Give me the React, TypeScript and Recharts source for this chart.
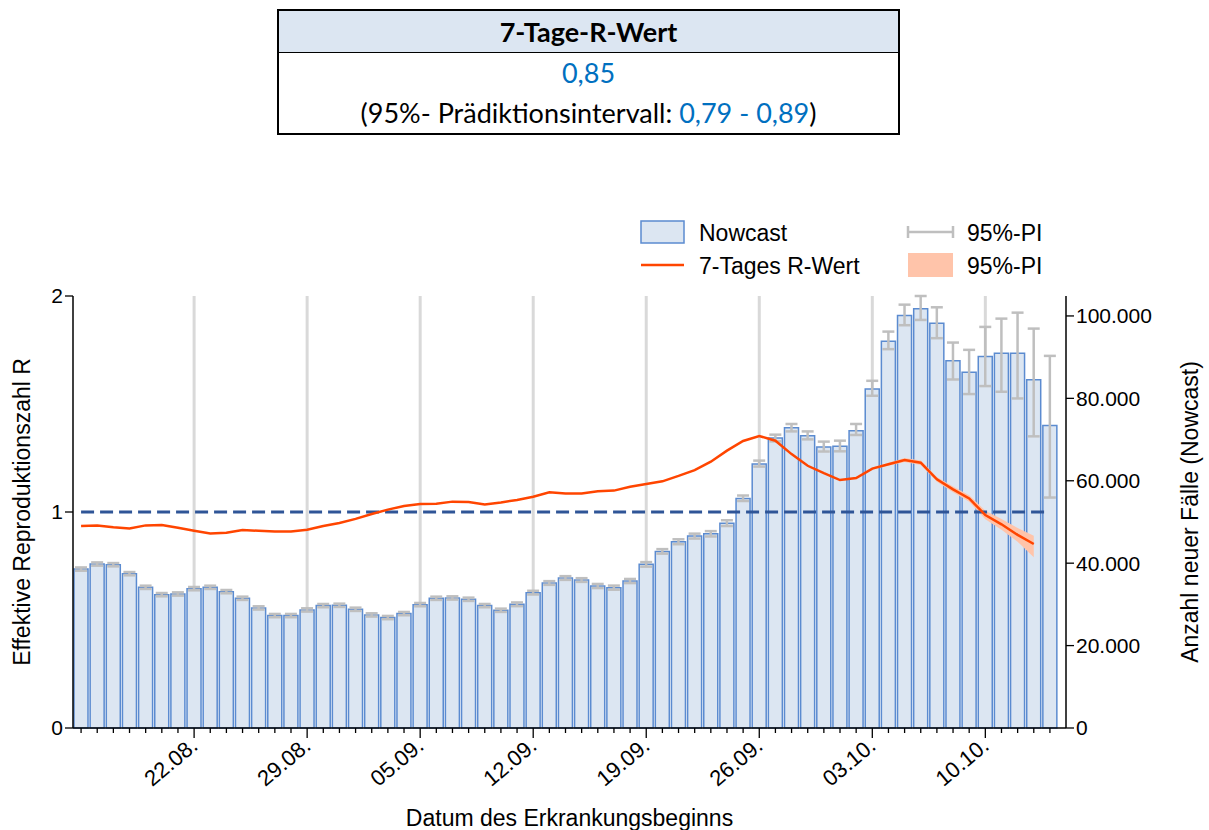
import React from 'react';
import {
  ComposedChart,
  Bar,
  ErrorBar,
  Line,
  Area,
  XAxis,
  YAxis,
  ReferenceLine,
  Label,
} from 'recharts';

// Erkrankungsbeginn 15.08. - 14.10.
const dates = [
  '15.08.', '16.08.', '17.08.', '18.08.', '19.08.', '20.08.', '21.08.', '22.08.', '23.08.', '24.08.',
  '25.08.', '26.08.', '27.08.', '28.08.', '29.08.', '30.08.', '31.08.', '01.09.', '02.09.', '03.09.',
  '04.09.', '05.09.', '06.09.', '07.09.', '08.09.', '09.09.', '10.09.', '11.09.', '12.09.', '13.09.',
  '14.09.', '15.09.', '16.09.', '17.09.', '18.09.', '19.09.', '20.09.', '21.09.', '22.09.', '23.09.',
  '24.09.', '25.09.', '26.09.', '27.09.', '28.09.', '29.09.', '30.09.', '01.10.', '02.10.', '03.10.',
  '04.10.', '05.10.', '06.10.', '07.10.', '08.10.', '09.10.', '10.10.', '11.10.', '12.10.', '13.10.',
  '14.10.',
];

const weekTicks = ['22.08.', '29.08.', '05.09.', '12.09.', '19.09.', '26.09.', '03.10.', '10.10.'];

// Nowcast, neue Fälle pro Tag
const nowcast = [
  38570, 39790, 39630, 37450, 34140, 32360, 32520, 33820, 34140, 33090,
  31480, 29140, 27280, 27280, 28650, 29700, 29780, 28810, 27440, 26800,
  27760, 29940, 31480, 31560, 31240, 29700, 28570, 30020, 32850, 35190,
  36400, 35910, 34460, 34060, 35670, 39710, 42860, 45200, 46570, 47130,
  49720, 55690, 64090, 70380, 72880, 70940, 68200, 68360, 72150, 82240,
  93870, 100080, 101770, 98220, 89100, 86360, 90150, 90960, 90960, 84500,
  73440,
];

// 95%-PI des Nowcast (Abstand nach unten / oben)
const piMinus = [
  400, 400, 400, 400, 400, 400, 400, 400, 400, 400,
  400, 400, 400, 400, 400, 400, 400, 400, 400, 400,
  400, 400, 400, 400, 400, 400, 400, 450, 450, 450,
  450, 450, 500, 500, 500, 550, 550, 600, 600, 650,
  700, 600, 650, 820, 900, 890, 1100, 1210, 1040, 1610,
  1930, 2330, 2740, 3620, 4520, 5320, 7170, 9360, 10980, 13720,
  17510,
];
const piPlus = [
  400, 400, 400, 400, 400, 400, 400, 400, 400, 400,
  400, 400, 400, 400, 400, 400, 400, 400, 400, 400,
  400, 400, 400, 400, 400, 400, 400, 450, 450, 450,
  450, 450, 500, 500, 500, 550, 550, 600, 600, 650,
  700, 730, 800, 810, 900, 1040, 1300, 1370, 1630, 2020,
  2330, 2660, 3070, 3880, 4440, 5410, 7190, 8390, 9840, 12430,
  16870,
];

// 7-Tages R-Wert
const rWert = [
  0.935, 0.937, 0.929, 0.924, 0.938, 0.940, 0.927, 0.913, 0.900, 0.904,
  0.917, 0.913, 0.910, 0.910, 0.918, 0.935, 0.949, 0.968, 0.991, 1.011,
  1.028, 1.037, 1.038, 1.048, 1.046, 1.035, 1.044, 1.056, 1.071, 1.091,
  1.086, 1.086, 1.096, 1.099, 1.117, 1.130, 1.142, 1.167, 1.194, 1.233,
  1.284, 1.329, 1.352, 1.330, 1.268, 1.214, 1.180, 1.148, 1.157, 1.201,
  1.221, 1.241, 1.228, 1.151, 1.105, 1.063, 0.986, 0.943, 0.894, 0.852,
  null,
];

// 95%-PI des R-Werts (nur die letzten Tage)
const rLow: (number | null)[] = [
  ...Array(49).fill(null),
  1.197, 1.214, 1.232, 1.218, 1.140, 1.092, 1.048, 0.966, 0.918, 0.862, 0.79,
  null,
];
const rHigh: (number | null)[] = [
  ...Array(49).fill(null),
  1.205, 1.228, 1.250, 1.238, 1.162, 1.118, 1.078, 1.006, 0.968, 0.926, 0.89,
  null,
];

const THRESHOLD = 1;

const data = dates.map((date, i) => ({
  date,
  nowcast: nowcast[i],
  pi: [piMinus[i], piPlus[i]],
  r: rWert[i],
  band: rLow[i] != null && rHigh[i] != null ? [rLow[i], rHigh[i]] : null,
  one: THRESHOLD,
}));

const FONT = '"Liberation Sans", Arial, sans-serif';
const BLUE_TXT = '#0070c0';

const fmtThousands = (v: number) => v.toLocaleString('de-DE');

// daily minor ticks, weekly major ticks with rotated labels
const DateTick = (props: any) => {
  const { x, y, payload } = props;
  const major = weekTicks.includes(payload.value);
  const tx = x + 5;
  const ty = y + 20;
  return (
    <g>
      <line x1={x} y1={y} x2={x} y2={y + (major ? 10 : 5)} stroke="#000" strokeWidth={1.3} />
      {major && (
        <g transform={`translate(${tx}, ${ty}) rotate(-40)`}>
          <text x={0} y={0} textAnchor="end" fontSize={22} fontFamily={FONT} fill="#000">
            {payload.value}
          </text>
        </g>
      )}
    </g>
  );
};

const InfoTable = () => (
  <div
    style={{
      position: 'absolute',
      left: 277,
      top: 9,
      width: 619,
      height: 122,
      border: '2px solid #000',
      fontFamily: 'Lato, "Open Sans", sans-serif',
      fontSize: 27,
      color: '#000',
      textAlign: 'center',
      background: '#fff',
    }}
  >
    <div
      style={{
        height: 41,
        lineHeight: '42px',
        background: '#dce6f2',
        borderBottom: '1.5px solid #000',
        fontWeight: 700,
      }}
    >
      7-Tage-R-Wert
    </div>
    <div style={{ lineHeight: '40px', color: BLUE_TXT }}>0,85</div>
    <div style={{ lineHeight: '40px' }}>
      (95%- Prädiktionsintervall: <span style={{ color: BLUE_TXT }}>0,79 - 0,89</span>)
    </div>
  </div>
);

const ChartLegend = () => (
  <svg
    width={440}
    height={70}
    style={{ position: 'absolute', left: 630, top: 212 }}
    fontFamily={FONT}
    fontSize={23}
  >
    <rect x={11} y={9} width={43} height={22} fill="#dce6f2" stroke="#5b8bd0" strokeWidth={1.5} />
    <text x={69} y={29} fill="#000">Nowcast</text>
    <line x1={11} y1={53} x2={54} y2={53} stroke="#ff4500" strokeWidth={2.5} />
    <text x={69} y={62} fill="#000">7-Tages R-Wert</text>
    <line x1={278} y1={20} x2={323} y2={20} stroke="#bfbfbf" strokeWidth={2.5} />
    <line x1={278} y1={14} x2={278} y2={26} stroke="#bfbfbf" strokeWidth={2.5} />
    <line x1={323} y1={14} x2={323} y2={26} stroke="#bfbfbf" strokeWidth={2.5} />
    <text x={337} y={29} fill="#000">95%-PI</text>
    <rect x={278} y={41} width={45} height={24} fill="#ffc4aa" />
    <text x={337} y={62} fill="#000">95%-PI</text>
  </svg>
);

export default function App() {
  return (
    <div style={{ position: 'absolute', left: 0, top: 0, width: 1209, height: 830, background: '#fff' }}>
      <ComposedChart
        width={1209}
        height={830}
        data={data}
        margin={{ top: 296, right: 0, bottom: 0, left: 0 }}
        barCategoryGap={1}
        style={{ fontFamily: FONT }}
      >
        <XAxis
          dataKey="date"
          interval={0}
          tickLine={false}
          tickSize={0}
          tickMargin={0}
          height={102}
          padding={{ left: 0, right: 8 }}
          axisLine={{ stroke: '#000', strokeWidth: 1.5 }}
          tick={<DateTick />}
        >
          <Label
            value="Datum des Erkrankungsbeginns"
            position="insideBottom"
            offset={4}
            style={{ fontSize: 23, fill: '#000', fontFamily: FONT }}
          />
        </XAxis>
        <YAxis
          yAxisId="r"
          width={73}
          domain={[0, 2]}
          ticks={[0, 1, 2]}
          tickSize={8}
          tick={{ fontSize: 21, fill: '#000', fontFamily: FONT }}
          axisLine={{ stroke: '#000', strokeWidth: 1.5 }}
          tickLine={{ stroke: '#000', strokeWidth: 1.3 }}
        >
          <Label
            value="Effektive Reproduktionszahl R"
            angle={-90}
            position="insideLeft"
            offset={22}
            style={{ fontSize: 23, fill: '#000', fontFamily: FONT, textAnchor: 'middle' }}
          />
        </YAxis>
        <YAxis
          yAxisId="n"
          orientation="right"
          width={143}
          domain={[0, 104600]}
          ticks={[0, 20000, 40000, 60000, 80000, 100000]}
          tickFormatter={fmtThousands}
          tickSize={8}
          tick={{ fontSize: 21, fill: '#000', fontFamily: FONT }}
          axisLine={{ stroke: '#000', strokeWidth: 1.5 }}
          tickLine={{ stroke: '#000', strokeWidth: 1.3 }}
        >
          <Label
            value="Anzahl neuer Fälle (Nowcast)"
            angle={-90}
            position="insideRight"
            offset={19}
            style={{ fontSize: 23, fill: '#000', fontFamily: FONT, textAnchor: 'middle' }}
          />
        </YAxis>

        {weekTicks.map((d) => (
          <ReferenceLine
            key={d}
            x={d}
            yAxisId="r"
            stroke="#d9d9d9"
            strokeWidth={3}
            zIndex={-60}
          />
        ))}

        <Bar
          yAxisId="n"
          dataKey="nowcast"
          fill="#dce6f2"
          stroke="#5b8bd0"
          strokeWidth={1.5}
          isAnimationActive={false}
        >
          <ErrorBar dataKey="pi" width={6} stroke="#bfbfbf" strokeWidth={2.5} direction="y" />
        </Bar>

        <Area
          yAxisId="r"
          dataKey="band"
          type="linear"
          fill="#ffc4aa"
          fillOpacity={1}
          stroke="none"
          connectNulls={false}
          isAnimationActive={false}
          zIndex={350}
        />
        <Line
          yAxisId="r"
          dataKey="one"
          type="linear"
          stroke="#2f5597"
          strokeWidth={3}
          strokeDasharray="13 6"
          dot={false}
          activeDot={false}
          isAnimationActive={false}
          zIndex={400}
        />
        <Line
          yAxisId="r"
          dataKey="r"
          type="linear"
          stroke="#ff4500"
          strokeWidth={2.5}
          dot={false}
          activeDot={false}
          isAnimationActive={false}
          zIndex={410}
        />
      </ComposedChart>
      <InfoTable />
      <ChartLegend />
    </div>
  );
}
